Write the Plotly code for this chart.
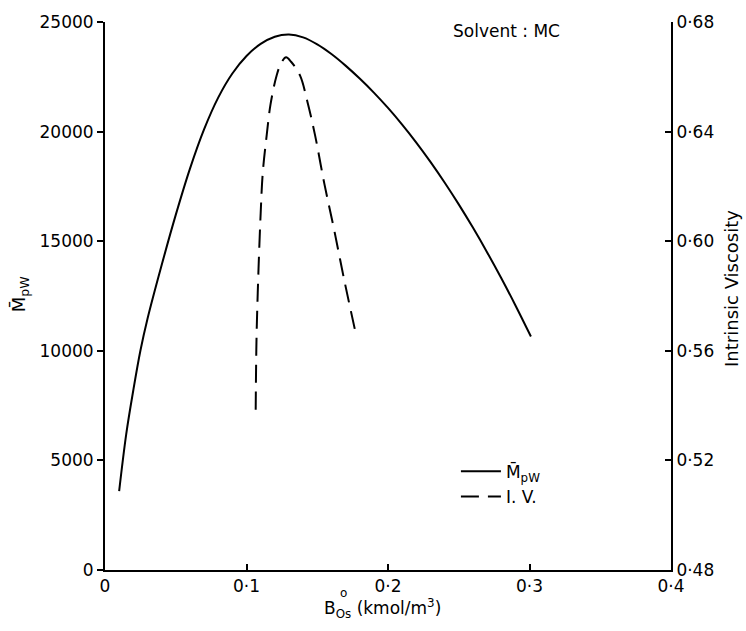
import plotly.graph_objects as go

# Weight-average molecular weight vs initial concentration
mpw_x = [0.010, 0.015, 0.020, 0.025, 0.030, 0.040, 0.050, 0.060, 0.070, 0.080,
         0.090, 0.100, 0.110, 0.120, 0.130, 0.140, 0.150, 0.160, 0.170, 0.180,
         0.190, 0.200, 0.210, 0.220, 0.230, 0.240, 0.250, 0.260, 0.270, 0.280,
         0.290, 0.301]
mpw_y = [3600, 6200, 8200, 10000, 11450, 13900, 16200, 18300, 20100, 21550,
         22650, 23450, 24000, 24330, 24430, 24300, 23980, 23540, 23010, 22420,
         21780, 21080, 20320, 19500, 18620, 17680, 16680, 15620, 14500, 13320,
         12080, 10650]

# Intrinsic viscosity vs initial concentration
iv_x = [0.1065, 0.1068, 0.1072, 0.1085, 0.1100, 0.1115, 0.1143, 0.1170, 0.1213,
        0.1245, 0.1280, 0.1315, 0.1378, 0.1430, 0.1484, 0.1550, 0.1618, 0.1690,
        0.1765]
iv_y = [0.5385, 0.5550, 0.5674, 0.5900, 0.6100, 0.6250, 0.6388, 0.6500, 0.6605,
        0.6650, 0.6671, 0.6655, 0.6605, 0.6510, 0.6388, 0.6210, 0.6045, 0.5860,
        0.5680]

x_ticks = [0, 0.1, 0.2, 0.3, 0.4]
x_ticktext = ["0", "0·1", "0·2", "0·3", "0·4"]
y_ticks = [0, 5000, 10000, 15000, 20000, 25000]
y_ticktext = ["0", "5000", "10000", "15000", "20000", "25000"]
y2_ticks = [0.48, 0.52, 0.56, 0.60, 0.64, 0.68]
y2_ticktext = ["0·48", "0·52", "0·56", "0·60", "0·64", "0·68"]

FONT = "DejaVu Sans"

fig = go.Figure()
fig.add_trace(go.Scatter(
    x=mpw_x, y=mpw_y, mode="lines", name="M\u0304<sub>pW</sub>",
    line=dict(color="black", width=2, shape="spline", smoothing=1.0),
))
fig.add_trace(go.Scatter(
    x=iv_x, y=iv_y, mode="lines", name="I. V.", yaxis="y2",
    line=dict(color="black", width=2, dash="18px,9px", shape="spline", smoothing=1.0),
))

axis_common = dict(showgrid=False, zeroline=False, showline=True, linecolor="black",
                   linewidth=2, tickcolor="black", tickwidth=2, ticklen=6,
                   tickfont=dict(family=FONT, size=17, color="black"))

fig.update_layout(
    width=746, height=631,
    margin=dict(l=105, r=75, t=16, b=61),
    paper_bgcolor="white", plot_bgcolor="white",
    font=dict(family=FONT, color="black"),
    showlegend=True,
    xaxis=dict(range=[0, 0.4], tickvals=x_ticks, ticktext=x_ticktext,
               ticks="inside", **axis_common),
    yaxis=dict(range=[0, 25000], tickvals=y_ticks, ticktext=y_ticktext,
               ticks="outside", **axis_common),
    yaxis2=dict(range=[0.48, 0.68], tickvals=y2_ticks, ticktext=y2_ticktext,
                overlaying="y", side="right", ticks="inside", **axis_common),
    legend=dict(x=0.62, y=0.212, xanchor="left", yanchor="top",
                bgcolor="rgba(0,0,0,0)", font=dict(family=FONT, size=17),
                itemwidth=40, tracegroupgap=2),
    annotations=[
        dict(text="Solvent : MC", x=0.709, y=0.984, xref="paper", yref="paper",
             xanchor="center", yanchor="middle", showarrow=False,
             font=dict(family=FONT, size=17)),
        dict(text="M\u0304<sub>pW</sub>", x=-0.175, y=0.505, xref="paper", yref="paper",
             textangle=-90, showarrow=False, font=dict(family=FONT, size=18)),
        dict(text="Intrinsic Viscosity", x=1.13, y=0.513, xref="paper", yref="paper",
             textangle=-90, showarrow=False, font=dict(family=FONT, size=18)),
        dict(text="B<sub>Os</sub> (kmol/m<sup>3</sup>)", x=0.49, y=-0.043,
             xref="paper", yref="paper", xanchor="center", yanchor="top",
             showarrow=False, font=dict(family=FONT, size=17)),
        dict(text="o", x=0.4205, y=-0.025, xref="paper", yref="paper",
             xanchor="center", yanchor="top", showarrow=False,
             font=dict(family=FONT, size=12)),
    ],
)

fig.write_html("out.html")
